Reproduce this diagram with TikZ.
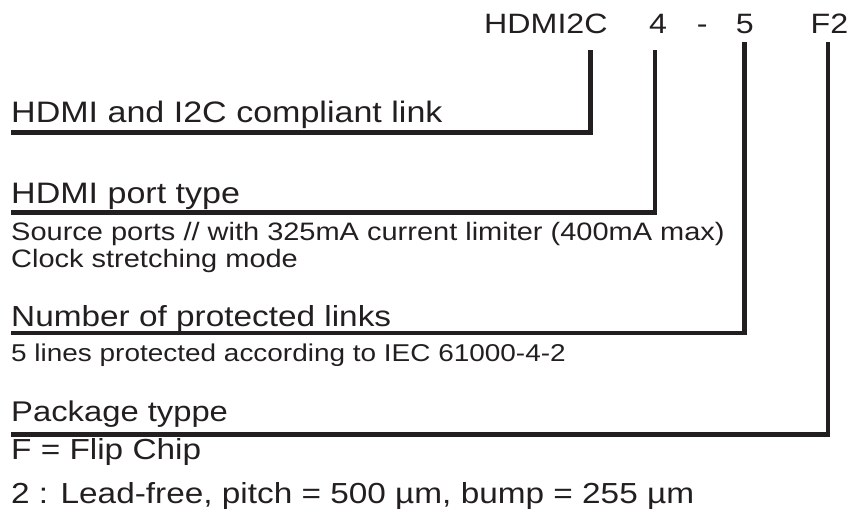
\documentclass[tikz,border=0pt]{standalone}
\usepackage{fontspec}
\setmainfont{Liberation Sans}[FakeStretch=1.15]
\definecolor{ink}{RGB}{35,31,32}

\begin{document}
\begin{tikzpicture}[x=1pt,y=-1pt,
  code/.style={anchor=base west,inner sep=0pt,text=ink,font=\fontsize{28}{28}\selectfont},
  head/.style={anchor=base west,inner sep=0pt,text=ink,font=\fontsize{#1}{#1}\selectfont},
  head/.default=29.6,
  note/.style={anchor=base west,inner sep=0pt,text=ink,font=\fontsize{#1}{#1}\selectfont},
  note/.default=25.2,
  lead/.style={draw=ink,line width=4.2pt}]
  \useasboundingbox (0,0) rectangle (853,517);

  % part number
  \foreach \n/\x/\t in {c1/484/HDMI2C, c2/649/4, c3/696.6/-, c4/735.7/5, c5/810.5/F2}
    \node[code] (\n) at (\x,33) {\t};

  % fields
  \node[head] (h1) at (11,122.3) {HDMI and I2C compliant link};
  \node[head] (h2) at (11,203.3) {HDMI port type};
  \node[note] (n1) at (11,240) {Source ports // with 325mA current limiter (400mA max)};
  \node[note] (n2) at (11,267.3) {Clock stretching mode};
  \node[head=29] (h3) at (11,326.7) {Number of protected links};
  \node[note=24.3] (n3) at (11,361.7) {5 lines protected according to IEC 61000-4-2};
  \node[head=28.5] (h4) at (11,421.7) {Package typpe};
  \node[head=29] (n4) at (11,459.5) {F = Flip Chip};
  \node[head=29] (n5) at (11,503.3) {2 : Lead-free, pitch = 500 µm, bump = 255 µm};

  % leaders from the code down to each field
  \foreach \i/\x/\y/\e in {1/590.5/50/132.5, 2/655/50/212.5, 3/744.5/42/333, 4/828.3/42/434.5}
    {\coordinate (t\i) at (\x,\y);
     \coordinate (e\i) at (11,\e);
     \draw[lead] (t\i) |- (e\i);}
\end{tikzpicture}
\end{document}
